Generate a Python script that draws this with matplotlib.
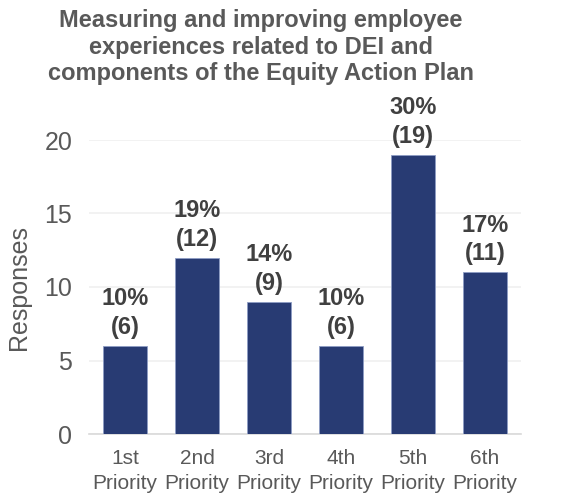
import matplotlib

matplotlib.use("Agg")

import matplotlib.pyplot as plt
import numpy as np

categories = ["1st\nPriority", "2nd\nPriority", "3rd\nPriority",
              "4th\nPriority", "5th\nPriority", "6th\nPriority"]
responses = [6, 12, 9, 6, 19, 11]
percents = ["10%", "19%", "14%", "10%", "30%", "17%"]

plt.rcParams["font.family"] = ["Liberation Sans", "DejaVu Sans"]

grey = "#595959"
bar_color = "#283B73"

fig = plt.figure(figsize=(5.63, 4.98), dpi=100)
ax = fig.add_axes([89 / 563, 64 / 498, 432 / 563, 294 / 498])

x = np.arange(len(categories))
bars = ax.bar(x, responses, width=0.62, color=bar_color,
              edgecolor="#8E9CC4", linewidth=0.6, zorder=3)

# percent + count labels above each bar
for rect, pct, n in zip(bars, percents, responses):
    ax.annotate(f"{pct}\n({n})", (rect.get_x() + rect.get_width() / 2, rect.get_height()),
                xytext=(0, 5), textcoords="offset points", ha="center", va="bottom",
                fontsize=17, fontweight="bold", color="#404040", linespacing=1.3,
                annotation_clip=False)

ax.set_xlim(-0.5, len(categories) - 0.5)
ax.set_ylim(0, 20)
ax.set_yticks([0, 5, 10, 15, 20])
ax.set_xticks(x)
ax.set_xticklabels(categories, fontsize=15, color=grey, linespacing=1.35)
ax.tick_params(axis="y", labelsize=18, labelcolor=grey, length=0, pad=12)
ax.tick_params(axis="x", length=0, pad=11)
ax.grid(axis="y", color="#F0F0F0", linewidth=1.2, zorder=0)
for side in ["top", "right", "left"]:
    ax.spines[side].set_visible(False)
ax.spines["bottom"].set_color("#D9D9D9")
ax.spines["bottom"].set_linewidth(1.2)

ax.set_ylabel("Responses", fontsize=18, color=grey, labelpad=10)

fig.text(261 / 563, 1 - 9 / 498,
         "Measuring and improving employee\nexperiences related to DEI and\n"
         "components of the Equity Action Plan",
         ha="center", va="top", fontsize=17, fontweight="bold", color=grey,
         linespacing=1.2)

fig.savefig("out.png", dpi=100)
plt.close(fig)
